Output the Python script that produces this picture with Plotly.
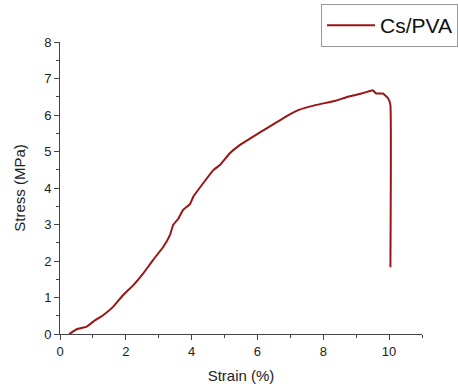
import plotly.graph_objects as go

strain = [0.28, 0.51, 0.81, 1.01, 1.32, 1.62, 1.92, 2.23, 2.53, 2.83, 3.14, 3.34, 3.44, 3.59,
          3.74, 3.95, 4.05, 4.35, 4.66, 4.86, 5.16, 5.47, 5.87, 6.33, 6.85, 7.26, 7.76, 8.37,
          8.68, 8.98, 9.28, 9.50, 9.61, 9.81, 9.97, 10.04, 10.04]
stress = [0.00, 0.13, 0.20, 0.34, 0.52, 0.75, 1.07, 1.34, 1.66, 2.03, 2.39, 2.71, 2.99, 3.15,
          3.40, 3.56, 3.76, 4.13, 4.49, 4.63, 4.95, 5.18, 5.41, 5.66, 5.95, 6.14, 6.27, 6.39,
          6.48, 6.55, 6.62, 6.68, 6.59, 6.59, 6.46, 6.27, 1.83]
series_name = "Cs/PVA"

font = "Liberation Sans, Arial, sans-serif"
axcol = "#444444"

fig = go.Figure()
fig.add_trace(go.Scatter(x=strain, y=stress, mode="lines", name=series_name,
                         line=dict(color="#9b1414", width=2, shape="spline", smoothing=0.3),
                         showlegend=True))

fig.update_layout(
    width=458, height=388,
    margin=dict(l=60, r=36, t=42, b=54, autoexpand=False),
    paper_bgcolor="white", plot_bgcolor="white",
    font=dict(family=font, size=13, color="#222222"),
    showlegend=True,
    legend=dict(x=0.721, y=1.13, xanchor="left", yanchor="top",
                bordercolor="#999999", borderwidth=1, bgcolor="white",
                font=dict(size=21, color="#111111"),
                tracegroupgap=0, itemwidth=48),
    xaxis=dict(range=[0, 11], tickvals=[0, 2, 4, 6, 8, 10], showgrid=False, zeroline=False,
               automargin=False,
               showline=True, linecolor=axcol, linewidth=1, ticks="outside", ticklen=5,
               tickcolor=axcol, minor=dict(dtick=1, ticks="outside", ticklen=3, tickcolor=axcol),
               title=dict(text="Strain (%)", font=dict(size=15), standoff=12)),
    yaxis=dict(range=[0, 8], dtick=1, showgrid=False, zeroline=False,
               automargin=False,
               showline=True, linecolor=axcol, linewidth=1, ticks="outside", ticklen=5,
               tickcolor=axcol, minor=dict(dtick=0.5, ticks="outside", ticklen=3, tickcolor=axcol),
               title=dict(text="Stress (MPa)", font=dict(size=15), standoff=14)),
)

fig.write_html("out.html", config={"displayModeBar": False},
               post_script="document.body.style.margin='0';document.body.style.overflow='hidden';")
